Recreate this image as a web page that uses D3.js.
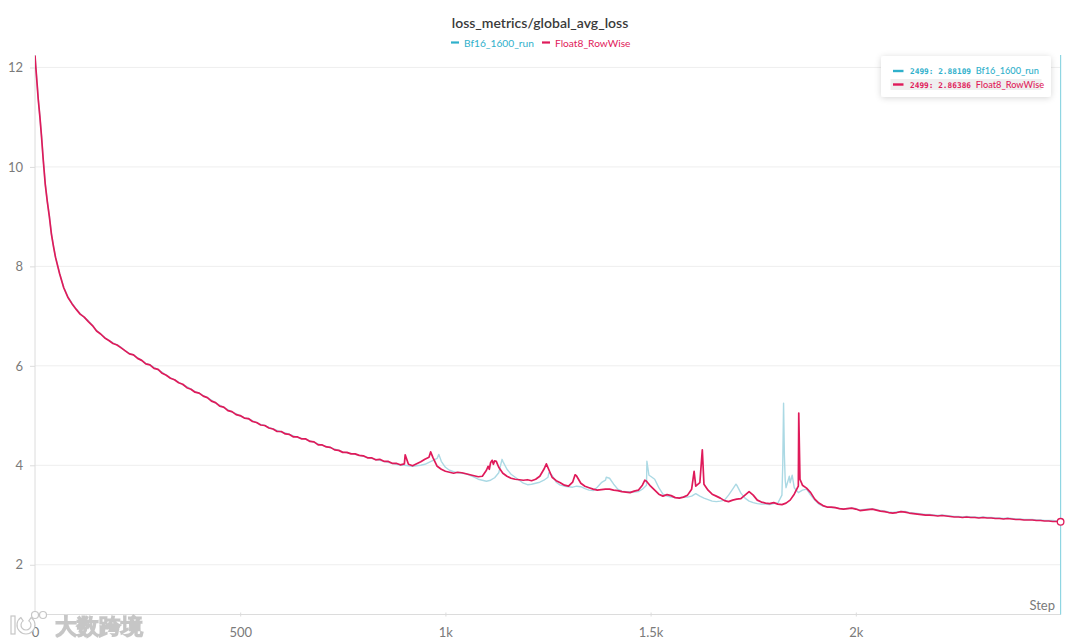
<!DOCTYPE html>
<html>
<head>
<meta charset="utf-8">
<script src="https://cdn.jsdelivr.net/npm/d3@7"></script>
<style>
  html, body { margin: 0; padding: 0; background: #fff; }
  svg { display: block; }
  text { font-family: Lato, "Noto Sans", sans-serif; }
</style>
</head>
<body>
<svg id="chart" width="1080" height="643"></svg>
<script>
// ---------------- DATA ----------------
const chartTitle = "loss_metrics/global_avg_loss";
const seriesNames = ["Bf16_1600_run", "Float8_RowWise"];
const xTickValues = [0, 500, 1000, 1500, 2000];
const xTickLabels = ["0", "500", "1k", "1.5k", "2k"];
const yTickValues = [2, 4, 6, 8, 10, 12];
const lastStep = 2499;
const lastValues = [2.88109, 2.86386];

// shared sampling grid of steps
const steps = [0,2,5,8,12,16,20,25,30,35,40,45,50,60,70,80,90,
  100,110,120,130,140,150,160,170,180,190,
  200,210,220,230,240,250,260,270,280,290,
  300,310,320,330,340,350,360,370,380,390,
  400,410,420,430,440,450,460,470,480,490,
  500,510,520,530,540,550,560,570,580,590,
  600,610,620,630,640,650,660,670,680,690,
  700,710,720,730,740,750,760,770,780,790,
  800,810,820,830,840,850,860,870,880,890,
  900,910,920,930,940,950,960,970,980,990,
  1000,1010,1020,1030,1040,1050,1060,1070,1080,1090,
  1100,1110,1120,1130,1140,1150,1160,1170,1180,1190,
  1200,1210,1220,1230,1240,1250,1260,1270,1280,1290,
  1300,1310,1320,1330,1340,1350,1360,1370,1380,1390,
  1400,1410,1420,1430,1440,1450,1460,1470,1480,1490,
  1500,1510,1520,1530,1540,1550,1560,1570,1580,1590,
  1600,1610,1620,1630,1640,1650,1660,1670,1680,1690,
  1700,1710,1720,1730,1740,1750,1760,1770,1780,1790,
  1800,1810,1820,1830,1840,1850,1860,1870,1880,1890,
  1900,1910,1920,1930,1940,1950,1960,1970,1980,1990,
  2000,2010,2020,2030,2040,2050,2060,2070,2080,2090,
  2100,2110,2120,2130,2140,2150,2160,2170,2180,2190,
  2200,2210,2220,2230,2240,2250,2260,2270,2280,2290,
  2300,2310,2320,2330,2340,2350,2360,2370,2380,2390,
  2400,2410,2420,2430,2440,2450,2460,2470,2480,2490,
  2499];

const fp8Loss = [12.24,12.0,11.68,11.35,11.0,10.6,10.15,9.65,9.3,9.0,8.65,8.4,8.18,7.85,7.57,7.38,7.25,
  7.14,7.04,6.98,6.89,6.81,6.70,6.64,6.56,6.51,6.45,
  6.42,6.36,6.30,6.24,6.22,6.15,6.11,6.04,6.02,5.95,
  5.93,5.85,5.81,5.75,5.72,5.66,5.63,5.56,5.53,5.47,
  5.45,5.39,5.36,5.29,5.26,5.19,5.17,5.10,5.08,5.02,
  5.00,4.95,4.94,4.88,4.86,4.81,4.80,4.75,4.73,4.68,
  4.68,4.63,4.62,4.57,4.57,4.53,4.53,4.48,4.47,4.41,
  4.41,4.37,4.36,4.31,4.30,4.26,4.26,4.23,4.23,4.20,
  4.19,4.15,4.15,4.11,4.12,4.08,4.08,4.04,4.04,4.01,
  4.03,4.02,3.99,4.03,4.07,4.12,4.16,4.15,3.98,3.92,
  3.88,3.86,3.84,3.86,3.85,3.83,3.81,3.79,3.77,3.78,
  3.90,4.05,4.09,3.96,3.84,3.78,3.74,3.72,3.71,3.70,
  3.71,3.69,3.72,3.78,3.92,3.95,3.76,3.69,3.65,3.60,
  3.58,3.66,3.78,3.64,3.58,3.55,3.52,3.50,3.51,3.52,
  3.52,3.50,3.49,3.47,3.46,3.45,3.48,3.50,3.60,3.68,
  3.58,3.50,3.42,3.38,3.41,3.39,3.35,3.34,3.36,3.40,
  3.52,3.58,3.65,3.62,3.50,3.42,3.38,3.34,3.29,3.27,
  3.30,3.32,3.33,3.40,3.47,3.40,3.30,3.26,3.24,3.23,
  3.25,3.22,3.21,3.24,3.30,3.42,3.58,3.60,3.54,3.45,
  3.32,3.24,3.19,3.16,3.16,3.15,3.13,3.12,3.13,3.14,
  3.12,3.09,3.10,3.11,3.12,3.10,3.08,3.07,3.05,3.04,
  3.05,3.07,3.06,3.04,3.03,3.02,3.01,3.00,3.00,2.99,
  2.98,2.99,2.98,2.97,2.96,2.96,2.95,2.96,2.95,2.95,
  2.94,2.95,2.94,2.94,2.93,2.93,2.92,2.93,2.92,2.91,
  2.91,2.90,2.90,2.90,2.89,2.89,2.88,2.88,2.87,2.87,
  2.86386];

const bf16Loss = [12.24,12.0,11.69,11.36,11.0,10.61,10.16,9.66,9.3,9.01,8.66,8.41,8.19,7.86,7.58,7.39,7.26,
  7.15,7.05,6.97,6.91,6.81,6.71,6.64,6.57,6.51,6.46,
  6.42,6.37,6.30,6.25,6.22,6.16,6.11,6.05,6.02,5.97,
  5.92,5.87,5.81,5.76,5.72,5.67,5.62,5.58,5.53,5.48,
  5.45,5.40,5.36,5.31,5.25,5.21,5.16,5.12,5.07,5.04,
  4.99,4.96,4.93,4.90,4.86,4.82,4.80,4.76,4.73,4.70,
  4.67,4.65,4.62,4.59,4.56,4.54,4.52,4.49,4.46,4.43,
  4.40,4.38,4.35,4.33,4.30,4.27,4.25,4.24,4.22,4.20,
  4.18,4.16,4.14,4.12,4.10,4.08,4.06,4.04,4.02,4.00,
  4.00,3.99,3.98,3.99,4.00,4.02,4.06,4.10,4.14,4.08,
  3.96,3.90,3.87,3.85,3.84,3.83,3.80,3.76,3.72,3.70,
  3.68,3.70,3.75,3.85,4.08,3.92,3.82,3.76,3.70,3.64,
  3.61,3.62,3.64,3.66,3.70,3.76,3.80,3.66,3.60,3.58,
  3.57,3.56,3.58,3.57,3.53,3.50,3.49,3.56,3.65,3.70,
  3.74,3.62,3.52,3.48,3.47,3.47,3.46,3.47,3.52,3.60,
  3.78,3.72,3.55,3.42,3.38,3.36,3.35,3.35,3.36,3.36,
  3.38,3.43,3.38,3.34,3.31,3.28,3.27,3.28,3.30,3.40,
  3.52,3.60,3.44,3.34,3.28,3.25,3.23,3.22,3.22,3.21,
  3.23,3.24,3.40,3.55,3.65,3.55,3.45,3.50,3.52,3.40,
  3.30,3.22,3.18,3.16,3.15,3.15,3.13,3.12,3.13,3.14,
  3.13,3.10,3.11,3.12,3.12,3.11,3.09,3.08,3.06,3.05,
  3.06,3.07,3.07,3.05,3.04,3.03,3.02,3.01,3.01,3.00,
  2.99,3.00,2.99,2.98,2.97,2.97,2.96,2.97,2.96,2.96,
  2.95,2.96,2.95,2.95,2.94,2.94,2.93,2.94,2.93,2.92,
  2.92,2.91,2.91,2.91,2.90,2.90,2.89,2.89,2.89,2.88,
  2.88109];

// extra readings at narrow spikes (steps off the shared grid)
const fp8SpikeSteps  = [902, 964, 1104, 1107, 1114, 1117, 1124, 1246, 1316, 1486, 1606, 1626, 1858, 1861, 1864];
const fp8SpikeLoss   = [4.21, 4.27, 3.98, 3.92, 4.10, 4.02, 4.08, 4.03, 3.81, 3.70, 3.88, 4.31, 3.55, 5.05, 3.72];
const bf16SpikeSteps = [984, 1138, 1252, 1392, 1491, 1496, 1708, 1822, 1824, 1826, 1828, 1838, 1845];
const bf16SpikeLoss  = [4.22, 4.12, 3.85, 3.76, 4.08, 3.80, 3.62, 4.00, 5.25, 4.20, 3.70, 3.78, 3.80];

// ---------------- CHART ----------------
const colorBf16Line = "#abd9e4";
const colorBf16 = "#2fb0cb";
const colorFp8 = "#df1a5a";

const svg = d3.select("#chart");
const x = d3.scaleLinear().domain([0, 2500]).range([35, 1061]);
const y = d3.scaleLinear().domain([1, 12.25]).range([614.5, 55]);

function build(stepArr, valArr, sSteps, sVals) {
  const pts = stepArr.map((s, i) => ({ step: s, v: valArr[i] }));
  sSteps.forEach((s, i) => pts.push({ step: s, v: sVals[i] }));
  pts.sort((a, b) => a.step - b.step);
  return pts;
}
const bf16Data = build(steps, bf16Loss, bf16SpikeSteps, bf16SpikeLoss);
const fp8Data = build(steps, fp8Loss, fp8SpikeSteps, fp8SpikeLoss);

const defs = svg.append("defs");
defs.append("clipPath").attr("id", "plotclip").append("rect")
  .attr("x", 35).attr("y", 50).attr("width", 1028).attr("height", 565);
const f = defs.append("filter").attr("id", "shadow").attr("x", "-20%").attr("y", "-40%").attr("width", "140%").attr("height", "180%");
f.append("feDropShadow").attr("dx", 0).attr("dy", 1).attr("stdDeviation", 3).attr("flood-color", "#000").attr("flood-opacity", 0.16);

// gridlines
svg.append("g").selectAll("line").data(yTickValues).join("line")
  .attr("x1", 35).attr("x2", 1061)
  .attr("y1", d => y(d)).attr("y2", d => y(d))
  .attr("stroke", "#eeeeee").attr("stroke-width", 1);

// axes lines
svg.append("line").attr("x1", 35).attr("x2", 35).attr("y1", 55).attr("y2", 615)
  .attr("stroke", "#dcdcdc");
svg.append("line").attr("x1", 35).attr("x2", 1061).attr("y1", 614.5).attr("y2", 614.5)
  .attr("stroke", "#dcdcdc");

// y axis
const yAxis = d3.axisLeft(y).tickValues(yTickValues).tickSize(5).tickPadding(7).tickFormat(d3.format("d"));
const gy = svg.append("g").attr("transform", "translate(35,0)").call(yAxis);
gy.select(".domain").remove();
gy.selectAll(".tick line").attr("stroke", "#dcdcdc");
gy.selectAll(".tick text").attr("fill", "#7a7a7a").attr("font-size", 13).attr("font-family", "Lato, sans-serif");

// x axis
const xAxis = d3.axisBottom(x).tickValues(xTickValues).tickSize(4).tickPadding(11)
  .tickFormat((d, i) => xTickLabels[i]);
const gx = svg.append("g").attr("transform", "translate(0,612.5)").call(xAxis);
gx.select(".domain").remove();
gx.selectAll(".tick line").attr("stroke", "#dcdcdc");
gx.selectAll(".tick text").attr("fill", "#7a7a7a").attr("font-size", 13).attr("font-family", "Lato, sans-serif");

// Step label
svg.append("text").attr("x", 1055).attr("y", 610).attr("text-anchor", "end")
  .attr("font-size", 13).attr("fill", "#7a7a7a").text("Step");

// lines
const line = d3.line().x(d => x(d.step)).y(d => y(d.v));
const plot = svg.append("g").attr("clip-path", "url(#plotclip)");
plot.append("path").datum(bf16Data).attr("d", line)
  .attr("fill", "none").attr("stroke", colorBf16Line).attr("stroke-width", 1.4).attr("stroke-linejoin", "round");
plot.append("path").datum(fp8Data).attr("d", line)
  .attr("fill", "none").attr("stroke", colorFp8).attr("stroke-width", 1.7).attr("stroke-linejoin", "round");

// hover line and end marker
svg.append("line").attr("x1", x(lastStep)).attr("x2", x(lastStep)).attr("y1", 55).attr("y2", 614.5)
  .attr("stroke", "#8fd6e2").attr("stroke-width", 1.2);
svg.append("circle").attr("cx", x(lastStep)).attr("cy", y(lastValues[1])).attr("r", 3.3)
  .attr("fill", "#fff").attr("stroke", colorFp8).attr("stroke-width", 1.3);

// title and legend
svg.append("text").attr("x", 540).attr("y", 28).attr("text-anchor", "middle")
  .attr("font-size", 14).attr("font-weight", 600).attr("fill", "#3a3a3a").text(chartTitle);
const legendItems = [
  { name: seriesNames[0], color: colorBf16, x: 451 },
  { name: seriesNames[1], color: colorFp8, x: 542 }
];
const lg = svg.append("g").selectAll("g").data(legendItems).join("g");
lg.append("line").attr("x1", d => d.x).attr("x2", d => d.x + 8).attr("y1", 42.5).attr("y2", 42.5)
  .attr("stroke", d => d.color).attr("stroke-width", 2.2);
lg.append("text").attr("x", d => d.x + 13).attr("y", 46.5).attr("font-size", 10.2)
  .attr("fill", d => d.color).text(d => d.name);

// tooltip box
const tip = svg.append("g");
tip.append("rect").attr("x", 881).attr("y", 56).attr("width", 170).attr("height", 41).attr("rx", 3)
  .attr("fill", "#fff").attr("filter", "url(#shadow)");
tip.append("rect").attr("x", 890.5).attr("y", 79).attr("width", 151).attr("height", 11)
  .attr("fill", "#efefef");
const tipRows = [
  { name: seriesNames[0], val: lastValues[0], color: colorBf16, yy: 71 },
  { name: seriesNames[1], val: lastValues[1], color: colorFp8, yy: 84.5 }
];
const tr = tip.selectAll("g.row").data(tipRows).join("g");
tr.append("line").attr("x1", 893).attr("x2", 903.5).attr("y1", d => d.yy).attr("y2", d => d.yy)
  .attr("stroke", d => d.color).attr("stroke-width", 2.4);
const tt = tr.append("text").attr("x", 910).attr("y", d => d.yy + 3).attr("fill", d => d.color);
tt.append("tspan").attr("font-family", "'DejaVu Sans Mono', monospace").attr("font-size", 7.8)
  .attr("font-weight", 700).text(d => lastStep + ": " + d3.format(".5f")(d.val) + " ");
tt.append("tspan").attr("font-family", "Lato, sans-serif").attr("font-size", 9.2)
  .attr("font-weight", 500).text(d => d.name);

// watermark (logo drawn as shapes, name as text)
const wm = svg.append("g").attr("fill", "#fff").attr("stroke", "#c4c4c4").attr("stroke-width", 1.2)
  .attr("opacity", 0.95);
wm.append("rect").attr("x", 11).attr("y", 616).attr("width", 4).attr("height", 18);
wm.append("path").attr("d", d3.arc()({ innerRadius: 5, outerRadius: 9, startAngle: 0.6, endAngle: 2 * Math.PI - 0.6 }))
  .attr("transform", "translate(26,625)");
wm.append("circle").attr("cx", 35).attr("cy", 615).attr("r", 3.5);
wm.append("circle").attr("cx", 43).attr("cy", 615).attr("r", 3.5);
wm.append("text").attr("x", 55).attr("y", 634).attr("font-size", 22).attr("font-weight", 700)
  .attr("font-family", "'Noto Sans CJK SC', sans-serif").text("大数跨境");
</script>
</body>
</html>
